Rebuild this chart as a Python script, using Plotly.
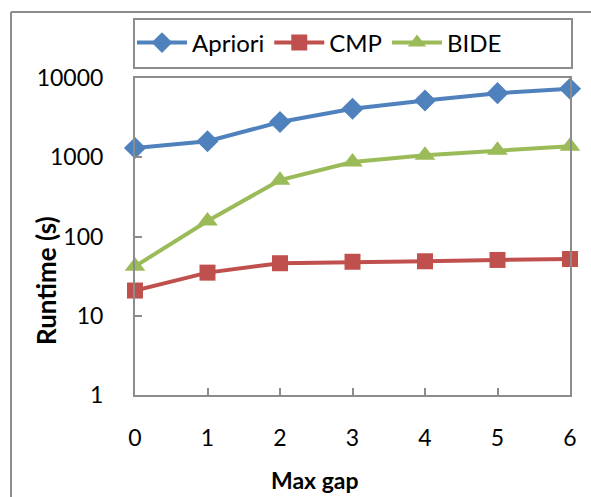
import plotly.graph_objects as go

# Runtime (seconds) of each miner as the maximum gap grows
max_gap = [0, 1, 2, 3, 4, 5, 6]
apriori = [1310, 1590, 2780, 4100, 5210, 6440, 7310]
cmp_rt = [20.8, 35, 46, 48, 48.7, 50.6, 52]
bide = [42, 157, 514, 870, 1060, 1225, 1375]

series_names = ["Apriori", "CMP", "BIDE"]
series_colors = ["#4F81BD", "#C0504D", "#9BBB59"]
series_symbols = ["diamond", "square", "triangle-up"]
series_sizes = [17, 16, 18]

y_ticks = [1, 10, 100, 1000, 10000]

FONT = "Lato"
AXIS_GREY = "#8C8C8C"

fig = go.Figure()
for name, vals, color, sym, size in zip(series_names, [apriori, cmp_rt, bide],
                                        series_colors, series_symbols, series_sizes):
    fig.add_trace(go.Scatter(
        x=max_gap, y=vals, name=name, mode="lines+markers",
        line=dict(color=color, width=4),
        marker=dict(symbol=sym, size=size, color=color, line=dict(width=0)),
    ))

# plot area in pixels: x 135..570, y 78..395 of a 591x497 page
L, R, T, B = 135, 21, 78, 102
W, H = 591, 497
pw, ph = W - L - R, H - T - B


def px_x(px):
    return (px - L) / pw


def px_y(py):
    return (H - B - py) / ph


shapes = [
    # chart frame (left and top edges)
    dict(type="line", xref="paper", yref="paper", x0=px_x(11), x1=px_x(11),
         y0=px_y(12), y1=px_y(500), line=dict(color=AXIS_GREY, width=2)),
    dict(type="line", xref="paper", yref="paper", x0=px_x(11), x1=px_x(595),
         y0=px_y(12), y1=px_y(12), line=dict(color=AXIS_GREY, width=2)),
    # legend box
    dict(type="rect", xref="paper", yref="paper", x0=px_x(134), x1=px_x(572),
         y0=px_y(68), y1=px_y(19), line=dict(color=AXIS_GREY, width=2),
         fillcolor="rgba(0,0,0,0)"),
]

annotations = [
    dict(text="<b>Runtime (s)</b>", xref="paper", yref="paper",
         x=px_x(46), y=px_y(281), xanchor="center", yanchor="middle",
         textangle=-90, showarrow=False, font=dict(family=FONT, size=26, color="black")),
    dict(text="<b>Max gap</b>", xref="paper", yref="paper",
         x=px_x(315), y=px_y(480), xanchor="center", yanchor="middle",
         showarrow=False, font=dict(family=FONT, size=23, color="black")),
]

fig.update_layout(
    width=W, height=H,
    margin=dict(l=L, r=R, t=T, b=B),
    paper_bgcolor="white", plot_bgcolor="white",
    font=dict(family=FONT, size=23, color="black"),
    showlegend=True,
    legend=dict(orientation="h", x=px_x(132), y=px_y(43), xanchor="left", yanchor="middle",
                font=dict(family=FONT, size=24, color="black"),
                itemwidth=50, bgcolor="rgba(0,0,0,0)", borderwidth=0,
                tracegroupgap=0),
    shapes=shapes,
    annotations=annotations,
    xaxis=dict(
        range=[0, 6], tickmode="array", tickvals=max_gap,
        ticktext=[str(v) for v in max_gap],
        showgrid=False, zeroline=False,
        showline=True, linecolor=AXIS_GREY, linewidth=2, mirror=True,
        ticks="inside", ticklen=7, tickwidth=2, tickcolor=AXIS_GREY,
        ticklabelstandoff=21,
        tickfont=dict(family=FONT, size=23),
    ),
    yaxis=dict(
        type="log", range=[0, 4], tickmode="array", tickvals=y_ticks,
        ticktext=[str(v) for v in y_ticks],
        showgrid=False, zeroline=False,
        showline=True, linecolor=AXIS_GREY, linewidth=2, mirror=True,
        ticks="inside", ticklen=7, tickwidth=2, tickcolor=AXIS_GREY,
        ticklabelstandoff=25,
        tickfont=dict(family=FONT, size=23),
    ),
)

fig.update_traces(cliponaxis=False)
fig.write_html("out.html")
